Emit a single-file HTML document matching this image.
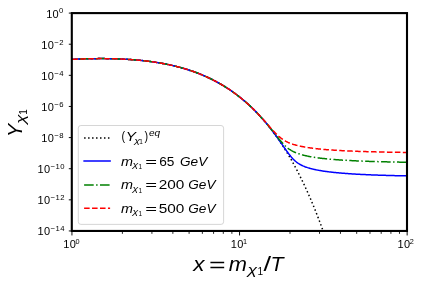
<!DOCTYPE html>
<html><head><meta charset="utf-8"><title>Relic abundance</title>
<style>
html,body{margin:0;padding:0;background:#fff;}
body{width:423px;height:287px;overflow:hidden;font-family:"Liberation Sans",sans-serif;}
svg{display:block;will-change:transform;font-family:"Liberation Sans",sans-serif;fill:#000;}
.tk{font-size:11px;letter-spacing:0.35px;}
.sp{font-size:7.7px;letter-spacing:0.55px;}
.lg{font-size:13.4px;}
.lgs{font-size:9.4px;}
.lgss{font-size:6.6px;}
.spx{font-size:7.3px;letter-spacing:0;}
.lgx{font-size:7.7px;}
.lgp{font-size:12px;}
.ax{font-size:20px;}
.axs{font-size:12px;}
.axss{font-size:10px;}
.i{font-style:italic;}
</style></head><body>
<svg width="423" height="287" viewBox="0 0 423 287">
<rect x="0" y="0" width="423" height="287" fill="#fff"/>
<defs><clipPath id="c"><rect x="71.80" y="13.10" width="335.20" height="217.85"/></clipPath></defs>

<g clip-path="url(#c)" fill="none" stroke-width="1.5" stroke-linejoin="round">
<path d="M71.80 59.34 L72.64 59.31 L73.48 59.27 L74.32 59.23 L75.16 59.20 L76.00 59.16 L76.84 59.13 L77.68 59.09 L78.52 59.06 L79.36 59.03 L80.20 59.00 L81.04 58.97 L81.88 58.94 L82.72 58.92 L83.56 58.89 L84.40 58.87 L85.24 58.84 L86.08 58.82 L86.92 58.80 L87.76 58.78 L88.60 58.76 L89.44 58.74 L90.28 58.72 L91.12 58.71 L91.96 58.69 L92.80 58.68 L93.64 58.67 L94.48 58.66 L95.32 58.65 L96.16 58.64 L97.00 58.63 L97.84 58.62 L98.68 58.62 L99.52 58.62 L100.36 58.61 L101.20 58.61 L102.04 58.61 L102.88 58.62 L103.72 58.62 L104.56 58.62 L105.40 58.63 L106.24 58.64 L107.08 58.65 L107.92 58.66 L108.76 58.67 L109.60 58.68 L110.44 58.70 L111.28 58.71 L112.12 58.73 L112.96 58.75 L113.81 58.77 L114.65 58.79 L115.49 58.82 L116.33 58.84 L117.17 58.87 L118.01 58.90 L118.85 58.93 L119.69 58.97 L120.53 59.00 L121.37 59.04 L122.21 59.07 L123.05 59.11 L123.89 59.16 L124.73 59.20 L125.57 59.24 L126.41 59.29 L127.25 59.34 L128.09 59.39 L128.93 59.44 L129.77 59.50 L130.61 59.56 L131.45 59.62 L132.29 59.68 L133.13 59.74 L133.97 59.81 L134.81 59.87 L135.65 59.94 L136.49 60.01 L137.33 60.09 L138.17 60.16 L139.01 60.24 L139.85 60.32 L140.69 60.40 L141.53 60.49 L142.37 60.58 L143.21 60.67 L144.05 60.76 L144.89 60.85 L145.73 60.95 L146.57 61.05 L147.41 61.15 L148.25 61.26 L149.09 61.36 L149.93 61.47 L150.77 61.59 L151.61 61.70 L152.45 61.82 L153.29 61.94 L154.13 62.06 L154.97 62.19 L155.81 62.32 L156.65 62.45 L157.49 62.59 L158.33 62.72 L159.17 62.86 L160.01 63.01 L160.85 63.15 L161.69 63.30 L162.53 63.46 L163.37 63.61 L164.21 63.77 L165.05 63.93 L165.89 64.10 L166.73 64.27 L167.57 64.44 L168.41 64.62 L169.25 64.79 L170.09 64.98 L170.93 65.16 L171.77 65.35 L172.61 65.54 L173.45 65.74 L174.29 65.94 L175.13 66.14 L175.97 66.35 L176.81 66.56 L177.65 66.78 L178.49 67.00 L179.33 67.22 L180.17 67.45 L181.01 67.68 L181.85 67.91 L182.69 68.15 L183.53 68.39 L184.37 68.64 L185.21 68.89 L186.05 69.15 L186.89 69.41 L187.73 69.67 L188.57 69.94 L189.41 70.21 L190.25 70.49 L191.09 70.77 L191.93 71.06 L192.77 71.35 L193.61 71.65 L194.45 71.95 L195.29 72.26 L196.13 72.57 L196.97 72.88 L197.82 73.20 L198.66 73.53 L199.50 73.86 L200.34 74.20 L201.18 74.54 L202.02 74.89 L202.86 75.24 L203.70 75.60 L204.54 75.96 L205.38 76.33 L206.22 76.70 L207.06 77.08 L207.90 77.47 L208.74 77.86 L209.58 78.26 L210.42 78.66 L211.26 79.07 L212.10 79.49 L212.94 79.91 L213.78 80.34 L214.62 80.78 L215.46 81.22 L216.30 81.66 L217.14 82.12 L217.98 82.58 L218.82 83.05 L219.66 83.52 L220.50 84.00 L221.34 84.49 L222.18 84.98 L223.02 85.49 L223.86 86.00 L224.70 86.51 L225.54 87.04 L226.38 87.57 L227.22 88.11 L228.06 88.65 L228.90 89.21 L229.74 89.77 L230.58 90.34 L231.42 90.92 L232.26 91.50 L233.10 92.10 L233.94 92.70 L234.78 93.31 L235.62 93.93 L236.46 94.56 L237.30 95.20 L238.14 95.84 L238.98 96.49 L239.82 97.16 L240.66 97.83 L241.50 98.51 L242.34 99.20 L243.18 99.90 L244.02 100.61 L244.86 101.33 L245.70 102.06 L246.54 102.80 L247.38 103.55 L248.22 104.30 L249.06 105.07 L249.90 105.85 L250.74 106.64 L251.58 107.44 L252.42 108.25 L253.26 109.07 L254.10 109.90 L254.94 110.75 L255.78 111.60 L256.62 112.47 L257.46 113.34 L258.30 114.23 L259.14 115.13 L259.98 116.04 L260.82 116.97 L261.66 117.90 L262.50 118.85 L263.34 119.81 L264.18 120.79 L265.02 121.77 L265.86 122.77 L266.70 123.78 L267.54 124.81 L268.38 125.84 L269.22 126.89 L270.06 127.96 L270.90 129.04 L271.74 130.13 L272.58 131.24 L273.42 132.36 L274.26 133.49 L275.10 134.64 L275.94 135.81 L276.78 136.99 L277.62 138.18 L278.46 139.39 L279.30 140.61 L280.14 141.85 L280.98 143.11 L281.83 144.38 L282.67 145.67 L283.51 146.98 L284.35 148.30 L285.19 149.63 L286.03 150.99 L286.87 152.36 L287.71 153.75 L288.55 155.16 L289.39 156.58 L290.23 158.02 L291.07 159.48 L291.91 160.96 L292.75 162.46 L293.59 163.97 L294.43 165.51 L295.27 167.06 L296.11 168.63 L296.95 170.23 L297.79 171.84 L298.63 173.47 L299.47 175.13 L300.31 176.80 L301.15 178.49 L301.99 180.21 L302.83 181.95 L303.67 183.70 L304.51 185.48 L305.35 187.29 L306.19 189.11 L307.03 190.96 L307.87 192.83 L308.71 194.72 L309.55 196.63 L310.39 198.57 L311.23 200.54 L312.07 202.52 L312.91 204.54 L313.75 206.57 L314.59 208.64 L315.43 210.72 L316.27 212.84 L317.11 214.97 L317.95 217.14 L318.79 219.33 L319.63 221.55 L320.47 223.79 L321.31 226.06 L322.15 228.37 L322.99 230.69 L323.83 233.05 L324.67 235.44 L325.51 237.85 L326.35 240.29 L327.19 242.77 L328.03 245.27" stroke="#000" stroke-dasharray="1.5 2.475" stroke-dashoffset="1.3"/>
<path d="M71.80 59.34 L72.47 59.31 L73.14 59.28 L73.82 59.25 L74.49 59.22 L75.16 59.20 L75.83 59.17 L76.50 59.14 L77.17 59.11 L77.85 59.09 L78.52 59.06 L79.19 59.04 L79.86 59.01 L80.53 58.99 L81.20 58.97 L81.88 58.94 L82.55 58.92 L83.22 58.90 L83.89 58.88 L84.56 58.86 L85.23 58.84 L85.91 58.83 L86.58 58.81 L87.25 58.79 L87.92 58.78 L88.59 58.76 L89.27 58.75 L89.94 58.73 L90.61 58.72 L91.28 58.71 L91.95 58.69 L92.62 58.68 L93.30 58.67 L93.97 58.66 L94.64 58.65 L95.31 58.65 L95.98 58.64 L96.65 58.63 L97.33 58.63 L98.00 58.62 L98.67 58.62 L99.34 58.62 L100.01 58.62 L100.68 58.61 L101.36 58.61 L102.03 58.61 L102.70 58.62 L103.37 58.62 L104.04 58.62 L104.72 58.62 L105.39 58.63 L106.06 58.64 L106.73 58.64 L107.40 58.65 L108.07 58.66 L108.75 58.67 L109.42 58.68 L110.09 58.69 L110.76 58.70 L111.43 58.72 L112.10 58.73 L112.78 58.75 L113.45 58.76 L114.12 58.78 L114.79 58.80 L115.46 58.82 L116.14 58.84 L116.81 58.86 L117.48 58.88 L118.15 58.91 L118.82 58.93 L119.49 58.96 L120.17 58.99 L120.84 59.01 L121.51 59.04 L122.18 59.07 L122.85 59.10 L123.52 59.14 L124.20 59.17 L124.87 59.21 L125.54 59.24 L126.21 59.28 L126.88 59.32 L127.55 59.36 L128.23 59.40 L128.90 59.44 L129.57 59.49 L130.24 59.53 L130.91 59.58 L131.59 59.63 L132.26 59.67 L132.93 59.72 L133.60 59.78 L134.27 59.83 L134.94 59.88 L135.62 59.94 L136.29 60.00 L136.96 60.05 L137.63 60.11 L138.30 60.18 L138.97 60.24 L139.65 60.30 L140.32 60.37 L140.99 60.44 L141.66 60.50 L142.33 60.57 L143.00 60.65 L143.68 60.72 L144.35 60.79 L145.02 60.87 L145.69 60.95 L146.36 61.03 L147.04 61.11 L147.71 61.19 L148.38 61.27 L149.05 61.36 L149.72 61.45 L150.39 61.54 L151.07 61.63 L151.74 61.72 L152.41 61.81 L153.08 61.91 L153.75 62.01 L154.42 62.11 L155.10 62.21 L155.77 62.31 L156.44 62.42 L157.11 62.52 L157.78 62.63 L158.45 62.74 L159.13 62.86 L159.80 62.97 L160.47 63.09 L161.14 63.21 L161.81 63.33 L162.49 63.45 L163.16 63.57 L163.83 63.70 L164.50 63.83 L165.17 63.96 L165.84 64.09 L166.52 64.22 L167.19 64.36 L167.86 64.50 L168.53 64.64 L169.20 64.78 L169.87 64.93 L170.55 65.08 L171.22 65.23 L171.89 65.38 L172.56 65.53 L173.23 65.69 L173.91 65.85 L174.58 66.01 L175.25 66.17 L175.92 66.34 L176.59 66.51 L177.26 66.68 L177.94 66.85 L178.61 67.03 L179.28 67.21 L179.95 67.39 L180.62 67.57 L181.29 67.76 L181.97 67.94 L182.64 68.13 L183.31 68.33 L183.98 68.52 L184.65 68.72 L185.32 68.93 L186.00 69.13 L186.67 69.34 L187.34 69.55 L188.01 69.76 L188.68 69.98 L189.36 70.19 L190.03 70.42 L190.70 70.64 L191.37 70.87 L192.04 71.10 L192.71 71.33 L193.39 71.57 L194.06 71.81 L194.73 72.05 L195.40 72.30 L196.07 72.54 L196.74 72.80 L197.42 73.05 L198.09 73.31 L198.76 73.57 L199.43 73.84 L200.10 74.10 L200.77 74.38 L201.45 74.65 L202.12 74.93 L202.79 75.21 L203.46 75.50 L204.13 75.79 L204.81 76.08 L205.48 76.37 L206.15 76.67 L206.82 76.98 L207.49 77.28 L208.16 77.59 L208.84 77.91 L209.51 78.23 L210.18 78.55 L210.85 78.88 L211.52 79.20 L212.19 79.54 L212.87 79.88 L213.54 80.22 L214.21 80.56 L214.88 80.91 L215.55 81.27 L216.22 81.62 L216.90 81.99 L217.57 82.35 L218.24 82.72 L218.91 83.10 L219.58 83.48 L220.26 83.86 L220.93 84.25 L221.60 84.64 L222.27 85.04 L222.94 85.44 L223.61 85.85 L224.29 86.26 L224.96 86.67 L225.63 87.09 L226.30 87.52 L226.97 87.95 L227.64 88.38 L228.32 88.82 L228.99 89.27 L229.66 89.72 L230.33 90.17 L231.00 90.63 L231.67 91.10 L232.35 91.57 L233.02 92.04 L233.69 92.52 L234.36 93.01 L235.03 93.50 L235.71 94.00 L236.38 94.50 L237.05 95.00 L237.72 95.52 L238.39 96.04 L239.06 96.56 L239.74 97.09 L240.41 97.63 L241.08 98.17 L241.75 98.72 L242.42 99.27 L243.09 99.83 L243.77 100.39 L244.44 100.97 L245.11 101.54 L245.78 102.13 L246.45 102.72 L247.13 103.32 L247.80 103.92 L248.47 104.53 L249.14 105.14 L249.81 105.77 L250.48 106.40 L251.16 107.03 L251.83 107.68 L252.50 108.32 L253.17 108.98 L253.84 109.64 L254.51 110.32 L255.19 110.99 L255.86 111.68 L256.53 112.37 L257.20 113.07 L257.87 113.77 L258.54 114.49 L259.22 115.21 L259.89 115.94 L260.56 116.67 L261.23 117.42 L261.90 118.17 L262.58 118.93 L263.25 119.70 L263.92 120.47 L264.59 121.26 L265.26 122.05 L265.93 122.85 L266.61 123.65 L267.28 124.47 L267.95 125.29 L268.62 126.12 L269.29 126.96 L269.96 127.81 L270.64 128.67 L271.31 129.53 L271.98 130.41 L272.65 131.29 L273.32 132.18 L273.99 133.08 L274.67 133.98 L275.34 134.90 L276.01 135.82 L276.68 136.75 L277.35 137.68 L278.03 138.63 L278.70 139.58 L279.37 140.53 L280.04 141.49 L280.71 142.45 L281.38 143.42 L282.06 144.39 L282.73 145.37 L283.40 146.34 L284.07 147.31 L284.74 148.27 L285.41 149.23 L286.09 150.18 L286.76 151.12 L287.43 152.05 L288.10 152.96 L288.77 153.85 L289.44 154.72 L290.12 155.57 L290.79 156.39 L291.46 157.18 L292.13 157.93 L292.80 158.66 L293.48 159.35 L294.15 160.01 L294.82 160.63 L295.49 161.22 L296.16 161.78 L296.83 162.30 L297.51 162.79 L298.18 163.26 L298.85 163.70 L299.52 164.11 L300.19 164.50 L300.86 164.86 L301.54 165.21 L302.21 165.54 L302.88 165.85 L303.55 166.14 L304.22 166.42 L304.89 166.69 L305.57 166.94 L306.24 167.18 L306.91 167.41 L307.58 167.64 L308.25 167.85 L308.93 168.05 L309.60 168.25 L310.27 168.44 L310.94 168.62 L311.61 168.79 L312.28 168.96 L312.96 169.12 L313.63 169.28 L314.30 169.43 L314.97 169.58 L315.64 169.72 L316.31 169.86 L316.99 169.99 L317.66 170.12 L318.33 170.25 L319.00 170.37 L319.67 170.49 L320.35 170.61 L321.02 170.72 L321.69 170.83 L322.36 170.94 L323.03 171.04 L323.70 171.14 L324.38 171.24 L325.05 171.34 L325.72 171.43 L326.39 171.52 L327.06 171.61 L327.73 171.70 L328.41 171.79 L329.08 171.87 L329.75 171.95 L330.42 172.03 L331.09 172.11 L331.76 172.19 L332.44 172.26 L333.11 172.33 L333.78 172.41 L334.45 172.48 L335.12 172.54 L335.80 172.61 L336.47 172.68 L337.14 172.74 L337.81 172.81 L338.48 172.87 L339.15 172.93 L339.83 172.99 L340.50 173.05 L341.17 173.10 L341.84 173.16 L342.51 173.22 L343.18 173.27 L343.86 173.32 L344.53 173.37 L345.20 173.43 L345.87 173.48 L346.54 173.53 L347.21 173.57 L347.89 173.62 L348.56 173.67 L349.23 173.72 L349.90 173.76 L350.57 173.81 L351.25 173.85 L351.92 173.89 L352.59 173.93 L353.26 173.98 L353.93 174.02 L354.60 174.06 L355.28 174.10 L355.95 174.14 L356.62 174.17 L357.29 174.21 L357.96 174.25 L358.63 174.29 L359.31 174.32 L359.98 174.36 L360.65 174.39 L361.32 174.43 L361.99 174.46 L362.66 174.49 L363.34 174.53 L364.01 174.56 L364.68 174.59 L365.35 174.62 L366.02 174.65 L366.70 174.68 L367.37 174.71 L368.04 174.74 L368.71 174.77 L369.38 174.80 L370.05 174.83 L370.73 174.85 L371.40 174.88 L372.07 174.91 L372.74 174.93 L373.41 174.96 L374.08 174.99 L374.76 175.01 L375.43 175.04 L376.10 175.06 L376.77 175.09 L377.44 175.11 L378.12 175.13 L378.79 175.16 L379.46 175.18 L380.13 175.20 L380.80 175.22 L381.47 175.25 L382.15 175.27 L382.82 175.29 L383.49 175.31 L384.16 175.33 L384.83 175.35 L385.50 175.37 L386.18 175.39 L386.85 175.41 L387.52 175.43 L388.19 175.45 L388.86 175.47 L389.53 175.49 L390.21 175.51 L390.88 175.53 L391.55 175.54 L392.22 175.56 L392.89 175.58 L393.57 175.60 L394.24 175.61 L394.91 175.63 L395.58 175.65 L396.25 175.66 L396.92 175.68 L397.60 175.70 L398.27 175.71 L398.94 175.73 L399.61 175.74 L400.28 175.76 L400.95 175.77 L401.63 175.79 L402.30 175.80 L402.97 175.82 L403.64 175.83 L404.31 175.84 L404.98 175.86 L405.66 175.87 L406.33 175.89 L407.00 175.90" stroke="#0000ff" stroke-linecap="square"/>
<path d="M71.80 59.34 L72.47 59.31 L73.14 59.28 L73.82 59.25 L74.49 59.22 L75.16 59.20 L75.83 59.17 L76.50 59.14 L77.17 59.11 L77.85 59.09 L78.52 59.06 L79.19 59.04 L79.86 59.01 L80.53 58.99 L81.20 58.97 L81.88 58.94 L82.55 58.92 L83.22 58.90 L83.89 58.88 L84.56 58.86 L85.23 58.84 L85.91 58.83 L86.58 58.81 L87.25 58.79 L87.92 58.78 L88.59 58.76 L89.27 58.75 L89.94 58.73 L90.61 58.72 L91.28 58.71 L91.95 58.69 L92.62 58.68 L93.30 58.67 L93.97 58.66 L94.64 58.65 L95.31 58.65 L95.98 58.64 L96.65 58.63 L97.33 58.63 L98.00 58.62 L98.67 58.62 L99.34 58.62 L100.01 58.62 L100.68 58.61 L101.36 58.61 L102.03 58.61 L102.70 58.62 L103.37 58.62 L104.04 58.62 L104.72 58.62 L105.39 58.63 L106.06 58.64 L106.73 58.64 L107.40 58.65 L108.07 58.66 L108.75 58.67 L109.42 58.68 L110.09 58.69 L110.76 58.70 L111.43 58.72 L112.10 58.73 L112.78 58.75 L113.45 58.76 L114.12 58.78 L114.79 58.80 L115.46 58.82 L116.14 58.84 L116.81 58.86 L117.48 58.88 L118.15 58.91 L118.82 58.93 L119.49 58.96 L120.17 58.99 L120.84 59.01 L121.51 59.04 L122.18 59.07 L122.85 59.10 L123.52 59.14 L124.20 59.17 L124.87 59.21 L125.54 59.24 L126.21 59.28 L126.88 59.32 L127.55 59.36 L128.23 59.40 L128.90 59.44 L129.57 59.49 L130.24 59.53 L130.91 59.58 L131.59 59.63 L132.26 59.67 L132.93 59.72 L133.60 59.78 L134.27 59.83 L134.94 59.88 L135.62 59.94 L136.29 60.00 L136.96 60.05 L137.63 60.11 L138.30 60.18 L138.97 60.24 L139.65 60.30 L140.32 60.37 L140.99 60.44 L141.66 60.50 L142.33 60.57 L143.00 60.65 L143.68 60.72 L144.35 60.79 L145.02 60.87 L145.69 60.95 L146.36 61.03 L147.04 61.11 L147.71 61.19 L148.38 61.27 L149.05 61.36 L149.72 61.45 L150.39 61.54 L151.07 61.63 L151.74 61.72 L152.41 61.81 L153.08 61.91 L153.75 62.01 L154.42 62.11 L155.10 62.21 L155.77 62.31 L156.44 62.42 L157.11 62.52 L157.78 62.63 L158.45 62.74 L159.13 62.86 L159.80 62.97 L160.47 63.09 L161.14 63.21 L161.81 63.33 L162.49 63.45 L163.16 63.57 L163.83 63.70 L164.50 63.83 L165.17 63.96 L165.84 64.09 L166.52 64.22 L167.19 64.36 L167.86 64.50 L168.53 64.64 L169.20 64.78 L169.87 64.93 L170.55 65.08 L171.22 65.23 L171.89 65.38 L172.56 65.53 L173.23 65.69 L173.91 65.85 L174.58 66.01 L175.25 66.17 L175.92 66.34 L176.59 66.51 L177.26 66.68 L177.94 66.85 L178.61 67.03 L179.28 67.21 L179.95 67.39 L180.62 67.57 L181.29 67.76 L181.97 67.94 L182.64 68.13 L183.31 68.33 L183.98 68.52 L184.65 68.72 L185.32 68.93 L186.00 69.13 L186.67 69.34 L187.34 69.55 L188.01 69.76 L188.68 69.98 L189.36 70.19 L190.03 70.42 L190.70 70.64 L191.37 70.87 L192.04 71.10 L192.71 71.33 L193.39 71.57 L194.06 71.81 L194.73 72.05 L195.40 72.30 L196.07 72.54 L196.74 72.80 L197.42 73.05 L198.09 73.31 L198.76 73.57 L199.43 73.84 L200.10 74.10 L200.77 74.38 L201.45 74.65 L202.12 74.93 L202.79 75.21 L203.46 75.50 L204.13 75.79 L204.81 76.08 L205.48 76.37 L206.15 76.67 L206.82 76.98 L207.49 77.28 L208.16 77.59 L208.84 77.91 L209.51 78.23 L210.18 78.55 L210.85 78.88 L211.52 79.20 L212.19 79.54 L212.87 79.88 L213.54 80.22 L214.21 80.56 L214.88 80.91 L215.55 81.27 L216.22 81.62 L216.90 81.99 L217.57 82.35 L218.24 82.72 L218.91 83.10 L219.58 83.48 L220.26 83.86 L220.93 84.25 L221.60 84.64 L222.27 85.04 L222.94 85.44 L223.61 85.85 L224.29 86.26 L224.96 86.67 L225.63 87.09 L226.30 87.52 L226.97 87.95 L227.64 88.38 L228.32 88.82 L228.99 89.27 L229.66 89.72 L230.33 90.17 L231.00 90.63 L231.67 91.10 L232.35 91.57 L233.02 92.04 L233.69 92.52 L234.36 93.01 L235.03 93.50 L235.71 93.99 L236.38 94.50 L237.05 95.00 L237.72 95.52 L238.39 96.04 L239.06 96.56 L239.74 97.09 L240.41 97.63 L241.08 98.17 L241.75 98.72 L242.42 99.27 L243.09 99.83 L243.77 100.39 L244.44 100.97 L245.11 101.54 L245.78 102.13 L246.45 102.72 L247.13 103.31 L247.80 103.92 L248.47 104.53 L249.14 105.14 L249.81 105.76 L250.48 106.39 L251.16 107.03 L251.83 107.67 L252.50 108.32 L253.17 108.98 L253.84 109.64 L254.51 110.31 L255.19 110.99 L255.86 111.67 L256.53 112.36 L257.20 113.06 L257.87 113.76 L258.54 114.47 L259.22 115.19 L259.89 115.92 L260.56 116.65 L261.23 117.40 L261.90 118.14 L262.58 118.90 L263.25 119.66 L263.92 120.43 L264.59 121.21 L265.26 121.99 L265.93 122.78 L266.61 123.58 L267.28 124.39 L267.95 125.20 L268.62 126.02 L269.29 126.84 L269.96 127.67 L270.64 128.50 L271.31 129.34 L271.98 130.19 L272.65 131.03 L273.32 131.88 L273.99 132.74 L274.67 133.59 L275.34 134.44 L276.01 135.29 L276.68 136.14 L277.35 136.98 L278.03 137.82 L278.70 138.65 L279.37 139.46 L280.04 140.27 L280.71 141.06 L281.38 141.83 L282.06 142.59 L282.73 143.32 L283.40 144.03 L284.07 144.72 L284.74 145.39 L285.41 146.02 L286.09 146.63 L286.76 147.21 L287.43 147.77 L288.10 148.30 L288.77 148.80 L289.44 149.27 L290.12 149.72 L290.79 150.15 L291.46 150.55 L292.13 150.93 L292.80 151.29 L293.48 151.64 L294.15 151.96 L294.82 152.27 L295.49 152.56 L296.16 152.84 L296.83 153.10 L297.51 153.36 L298.18 153.60 L298.85 153.83 L299.52 154.05 L300.19 154.26 L300.86 154.46 L301.54 154.66 L302.21 154.85 L302.88 155.03 L303.55 155.20 L304.22 155.37 L304.89 155.53 L305.57 155.69 L306.24 155.84 L306.91 155.98 L307.58 156.12 L308.25 156.26 L308.93 156.39 L309.60 156.52 L310.27 156.65 L310.94 156.77 L311.61 156.89 L312.28 157.00 L312.96 157.11 L313.63 157.22 L314.30 157.32 L314.97 157.43 L315.64 157.53 L316.31 157.62 L316.99 157.72 L317.66 157.81 L318.33 157.90 L319.00 157.99 L319.67 158.08 L320.35 158.16 L321.02 158.24 L321.69 158.32 L322.36 158.40 L323.03 158.48 L323.70 158.55 L324.38 158.62 L325.05 158.70 L325.72 158.77 L326.39 158.83 L327.06 158.90 L327.73 158.97 L328.41 159.03 L329.08 159.09 L329.75 159.16 L330.42 159.22 L331.09 159.28 L331.76 159.33 L332.44 159.39 L333.11 159.45 L333.78 159.50 L334.45 159.55 L335.12 159.61 L335.80 159.66 L336.47 159.71 L337.14 159.76 L337.81 159.81 L338.48 159.86 L339.15 159.90 L339.83 159.95 L340.50 160.00 L341.17 160.04 L341.84 160.08 L342.51 160.13 L343.18 160.17 L343.86 160.21 L344.53 160.25 L345.20 160.29 L345.87 160.33 L346.54 160.37 L347.21 160.41 L347.89 160.44 L348.56 160.48 L349.23 160.52 L349.90 160.55 L350.57 160.59 L351.25 160.62 L351.92 160.66 L352.59 160.69 L353.26 160.72 L353.93 160.76 L354.60 160.79 L355.28 160.82 L355.95 160.85 L356.62 160.88 L357.29 160.91 L357.96 160.94 L358.63 160.97 L359.31 161.00 L359.98 161.02 L360.65 161.05 L361.32 161.08 L361.99 161.11 L362.66 161.13 L363.34 161.16 L364.01 161.18 L364.68 161.21 L365.35 161.23 L366.02 161.26 L366.70 161.28 L367.37 161.31 L368.04 161.33 L368.71 161.35 L369.38 161.38 L370.05 161.40 L370.73 161.42 L371.40 161.44 L372.07 161.46 L372.74 161.48 L373.41 161.50 L374.08 161.52 L374.76 161.55 L375.43 161.57 L376.10 161.58 L376.77 161.60 L377.44 161.62 L378.12 161.64 L378.79 161.66 L379.46 161.68 L380.13 161.70 L380.80 161.71 L381.47 161.73 L382.15 161.75 L382.82 161.77 L383.49 161.78 L384.16 161.80 L384.83 161.82 L385.50 161.83 L386.18 161.85 L386.85 161.86 L387.52 161.88 L388.19 161.89 L388.86 161.91 L389.53 161.92 L390.21 161.94 L390.88 161.95 L391.55 161.97 L392.22 161.98 L392.89 162.00 L393.57 162.01 L394.24 162.02 L394.91 162.04 L395.58 162.05 L396.25 162.06 L396.92 162.08 L397.60 162.09 L398.27 162.10 L398.94 162.11 L399.61 162.13 L400.28 162.14 L400.95 162.15 L401.63 162.16 L402.30 162.17 L402.97 162.18 L403.64 162.20 L404.31 162.21 L404.98 162.22 L405.66 162.23 L406.33 162.24 L407.00 162.25" stroke="#008000" stroke-dasharray="9.6 2.4 1.5 2.4" stroke-dashoffset="8.1"/>
<path d="M71.80 59.34 L72.47 59.31 L73.14 59.28 L73.82 59.25 L74.49 59.22 L75.16 59.20 L75.83 59.17 L76.50 59.14 L77.17 59.11 L77.85 59.09 L78.52 59.06 L79.19 59.04 L79.86 59.01 L80.53 58.99 L81.20 58.97 L81.88 58.94 L82.55 58.92 L83.22 58.90 L83.89 58.88 L84.56 58.86 L85.23 58.84 L85.91 58.83 L86.58 58.81 L87.25 58.79 L87.92 58.78 L88.59 58.76 L89.27 58.75 L89.94 58.73 L90.61 58.72 L91.28 58.71 L91.95 58.69 L92.62 58.68 L93.30 58.67 L93.97 58.66 L94.64 58.65 L95.31 58.65 L95.98 58.64 L96.65 58.63 L97.33 58.63 L98.00 58.62 L98.67 58.62 L99.34 58.62 L100.01 58.62 L100.68 58.61 L101.36 58.61 L102.03 58.61 L102.70 58.62 L103.37 58.62 L104.04 58.62 L104.72 58.62 L105.39 58.63 L106.06 58.64 L106.73 58.64 L107.40 58.65 L108.07 58.66 L108.75 58.67 L109.42 58.68 L110.09 58.69 L110.76 58.70 L111.43 58.72 L112.10 58.73 L112.78 58.75 L113.45 58.76 L114.12 58.78 L114.79 58.80 L115.46 58.82 L116.14 58.84 L116.81 58.86 L117.48 58.88 L118.15 58.91 L118.82 58.93 L119.49 58.96 L120.17 58.99 L120.84 59.01 L121.51 59.04 L122.18 59.07 L122.85 59.10 L123.52 59.14 L124.20 59.17 L124.87 59.21 L125.54 59.24 L126.21 59.28 L126.88 59.32 L127.55 59.36 L128.23 59.40 L128.90 59.44 L129.57 59.49 L130.24 59.53 L130.91 59.58 L131.59 59.63 L132.26 59.67 L132.93 59.72 L133.60 59.78 L134.27 59.83 L134.94 59.88 L135.62 59.94 L136.29 60.00 L136.96 60.05 L137.63 60.11 L138.30 60.18 L138.97 60.24 L139.65 60.30 L140.32 60.37 L140.99 60.44 L141.66 60.50 L142.33 60.57 L143.00 60.65 L143.68 60.72 L144.35 60.79 L145.02 60.87 L145.69 60.95 L146.36 61.03 L147.04 61.11 L147.71 61.19 L148.38 61.27 L149.05 61.36 L149.72 61.45 L150.39 61.54 L151.07 61.63 L151.74 61.72 L152.41 61.81 L153.08 61.91 L153.75 62.01 L154.42 62.11 L155.10 62.21 L155.77 62.31 L156.44 62.42 L157.11 62.52 L157.78 62.63 L158.45 62.74 L159.13 62.86 L159.80 62.97 L160.47 63.09 L161.14 63.21 L161.81 63.33 L162.49 63.45 L163.16 63.57 L163.83 63.70 L164.50 63.83 L165.17 63.96 L165.84 64.09 L166.52 64.22 L167.19 64.36 L167.86 64.50 L168.53 64.64 L169.20 64.78 L169.87 64.93 L170.55 65.08 L171.22 65.23 L171.89 65.38 L172.56 65.53 L173.23 65.69 L173.91 65.85 L174.58 66.01 L175.25 66.17 L175.92 66.34 L176.59 66.51 L177.26 66.68 L177.94 66.85 L178.61 67.03 L179.28 67.21 L179.95 67.39 L180.62 67.57 L181.29 67.76 L181.97 67.94 L182.64 68.13 L183.31 68.33 L183.98 68.52 L184.65 68.72 L185.32 68.93 L186.00 69.13 L186.67 69.34 L187.34 69.55 L188.01 69.76 L188.68 69.98 L189.36 70.19 L190.03 70.42 L190.70 70.64 L191.37 70.87 L192.04 71.10 L192.71 71.33 L193.39 71.57 L194.06 71.81 L194.73 72.05 L195.40 72.30 L196.07 72.54 L196.74 72.80 L197.42 73.05 L198.09 73.31 L198.76 73.57 L199.43 73.84 L200.10 74.10 L200.77 74.38 L201.45 74.65 L202.12 74.93 L202.79 75.21 L203.46 75.50 L204.13 75.79 L204.81 76.08 L205.48 76.37 L206.15 76.67 L206.82 76.98 L207.49 77.28 L208.16 77.59 L208.84 77.91 L209.51 78.23 L210.18 78.55 L210.85 78.88 L211.52 79.20 L212.19 79.54 L212.87 79.88 L213.54 80.22 L214.21 80.56 L214.88 80.91 L215.55 81.27 L216.22 81.62 L216.90 81.99 L217.57 82.35 L218.24 82.72 L218.91 83.10 L219.58 83.48 L220.26 83.86 L220.93 84.25 L221.60 84.64 L222.27 85.04 L222.94 85.44 L223.61 85.85 L224.29 86.26 L224.96 86.67 L225.63 87.09 L226.30 87.52 L226.97 87.95 L227.64 88.38 L228.32 88.82 L228.99 89.27 L229.66 89.72 L230.33 90.17 L231.00 90.63 L231.67 91.10 L232.35 91.57 L233.02 92.04 L233.69 92.52 L234.36 93.01 L235.03 93.50 L235.71 93.99 L236.38 94.50 L237.05 95.00 L237.72 95.52 L238.39 96.03 L239.06 96.56 L239.74 97.09 L240.41 97.62 L241.08 98.16 L241.75 98.71 L242.42 99.27 L243.09 99.82 L243.77 100.39 L244.44 100.96 L245.11 101.54 L245.78 102.12 L246.45 102.71 L247.13 103.31 L247.80 103.91 L248.47 104.52 L249.14 105.13 L249.81 105.75 L250.48 106.38 L251.16 107.01 L251.83 107.65 L252.50 108.30 L253.17 108.96 L253.84 109.62 L254.51 110.28 L255.19 110.95 L255.86 111.63 L256.53 112.32 L257.20 113.01 L257.87 113.71 L258.54 114.42 L259.22 115.13 L259.89 115.85 L260.56 116.57 L261.23 117.30 L261.90 118.04 L262.58 118.78 L263.25 119.52 L263.92 120.27 L264.59 121.03 L265.26 121.78 L265.93 122.55 L266.61 123.31 L267.28 124.08 L267.95 124.84 L268.62 125.61 L269.29 126.38 L269.96 127.14 L270.64 127.90 L271.31 128.66 L271.98 129.41 L272.65 130.16 L273.32 130.89 L273.99 131.61 L274.67 132.32 L275.34 133.02 L276.01 133.70 L276.68 134.36 L277.35 135.01 L278.03 135.63 L278.70 136.24 L279.37 136.82 L280.04 137.38 L280.71 137.92 L281.38 138.43 L282.06 138.92 L282.73 139.39 L283.40 139.83 L284.07 140.26 L284.74 140.66 L285.41 141.04 L286.09 141.41 L286.76 141.75 L287.43 142.08 L288.10 142.40 L288.77 142.69 L289.44 142.98 L290.12 143.25 L290.79 143.50 L291.46 143.75 L292.13 143.98 L292.80 144.21 L293.48 144.42 L294.15 144.63 L294.82 144.83 L295.49 145.02 L296.16 145.20 L296.83 145.38 L297.51 145.55 L298.18 145.71 L298.85 145.87 L299.52 146.02 L300.19 146.17 L300.86 146.31 L301.54 146.45 L302.21 146.58 L302.88 146.71 L303.55 146.84 L304.22 146.96 L304.89 147.08 L305.57 147.19 L306.24 147.30 L306.91 147.41 L307.58 147.52 L308.25 147.62 L308.93 147.72 L309.60 147.82 L310.27 147.91 L310.94 148.00 L311.61 148.09 L312.28 148.18 L312.96 148.27 L313.63 148.35 L314.30 148.43 L314.97 148.51 L315.64 148.59 L316.31 148.67 L316.99 148.74 L317.66 148.81 L318.33 148.89 L319.00 148.95 L319.67 149.02 L320.35 149.09 L321.02 149.15 L321.69 149.22 L322.36 149.28 L323.03 149.34 L323.70 149.40 L324.38 149.46 L325.05 149.52 L325.72 149.57 L326.39 149.63 L327.06 149.68 L327.73 149.74 L328.41 149.79 L329.08 149.84 L329.75 149.89 L330.42 149.94 L331.09 149.99 L331.76 150.03 L332.44 150.08 L333.11 150.12 L333.78 150.17 L334.45 150.21 L335.12 150.26 L335.80 150.30 L336.47 150.34 L337.14 150.38 L337.81 150.42 L338.48 150.46 L339.15 150.50 L339.83 150.54 L340.50 150.57 L341.17 150.61 L341.84 150.65 L342.51 150.68 L343.18 150.72 L343.86 150.75 L344.53 150.78 L345.20 150.82 L345.87 150.85 L346.54 150.88 L347.21 150.91 L347.89 150.94 L348.56 150.98 L349.23 151.01 L349.90 151.03 L350.57 151.06 L351.25 151.09 L351.92 151.12 L352.59 151.15 L353.26 151.18 L353.93 151.20 L354.60 151.23 L355.28 151.25 L355.95 151.28 L356.62 151.30 L357.29 151.33 L357.96 151.35 L358.63 151.38 L359.31 151.40 L359.98 151.42 L360.65 151.45 L361.32 151.47 L361.99 151.49 L362.66 151.51 L363.34 151.54 L364.01 151.56 L364.68 151.58 L365.35 151.60 L366.02 151.62 L366.70 151.64 L367.37 151.66 L368.04 151.68 L368.71 151.70 L369.38 151.72 L370.05 151.73 L370.73 151.75 L371.40 151.77 L372.07 151.79 L372.74 151.81 L373.41 151.82 L374.08 151.84 L374.76 151.86 L375.43 151.87 L376.10 151.89 L376.77 151.91 L377.44 151.92 L378.12 151.94 L378.79 151.95 L379.46 151.97 L380.13 151.98 L380.80 152.00 L381.47 152.01 L382.15 152.03 L382.82 152.04 L383.49 152.06 L384.16 152.07 L384.83 152.08 L385.50 152.10 L386.18 152.11 L386.85 152.12 L387.52 152.14 L388.19 152.15 L388.86 152.16 L389.53 152.17 L390.21 152.18 L390.88 152.20 L391.55 152.21 L392.22 152.22 L392.89 152.23 L393.57 152.24 L394.24 152.25 L394.91 152.27 L395.58 152.28 L396.25 152.29 L396.92 152.30 L397.60 152.31 L398.27 152.32 L398.94 152.33 L399.61 152.34 L400.28 152.35 L400.95 152.36 L401.63 152.37 L402.30 152.38 L402.97 152.39 L403.64 152.40 L404.31 152.41 L404.98 152.41 L405.66 152.42 L406.33 152.43 L407.00 152.44" stroke="#ff0000" stroke-dasharray="5.55 2.4" stroke-dashoffset="7.35"/>
</g>
<g stroke="#000" stroke-width="0.95" fill="none">
<path d="M71.95 230.95 v4.5"/>
<path d="M239.55 230.95 v4.5"/>
<path d="M407.15 230.95 v4.5"/>
<path d="M71.80 13.10 h-3.0"/>
<path d="M71.80 44.22 h-3.0"/>
<path d="M71.80 75.34 h-3.0"/>
<path d="M71.80 106.46 h-3.0"/>
<path d="M71.80 137.59 h-3.0"/>
<path d="M71.80 168.71 h-3.0"/>
<path d="M71.80 199.83 h-3.0"/>
<path d="M71.80 230.95 h-3.0"/>
</g><g stroke="#000" stroke-width="0.85" fill="none">
<path d="M122.40 230.95 v2.9"/>
<path d="M151.92 230.95 v2.9"/>
<path d="M172.86 230.95 v2.9"/>
<path d="M189.10 230.95 v2.9"/>
<path d="M202.37 230.95 v2.9"/>
<path d="M213.59 230.95 v2.9"/>
<path d="M223.31 230.95 v2.9"/>
<path d="M231.88 230.95 v2.9"/>
<path d="M290.00 230.95 v2.9"/>
<path d="M319.52 230.95 v2.9"/>
<path d="M340.46 230.95 v2.9"/>
<path d="M356.70 230.95 v2.9"/>
<path d="M369.97 230.95 v2.9"/>
<path d="M381.19 230.95 v2.9"/>
<path d="M390.91 230.95 v2.9"/>
<path d="M399.48 230.95 v2.9"/>
</g>
<rect x="71.80" y="13.10" width="335.20" height="217.85" fill="none" stroke="#000" stroke-width="2.1" stroke-linejoin="miter"/>
<text x="63.9" y="17.50" text-anchor="end" class="tk">10<tspan class="sp" dy="-4.1">0</tspan></text>
<text x="64.1" y="48.62" text-anchor="end" class="tk">10<tspan class="sp" dy="-4.1">−2</tspan></text>
<text x="64.1" y="79.74" text-anchor="end" class="tk">10<tspan class="sp" dy="-4.1">−4</tspan></text>
<text x="64.1" y="110.86" text-anchor="end" class="tk">10<tspan class="sp" dy="-4.1">−6</tspan></text>
<text x="64.1" y="141.99" text-anchor="end" class="tk">10<tspan class="sp" dy="-4.1">−8</tspan></text>
<text x="65.1" y="173.11" text-anchor="end" class="tk">10<tspan class="sp" dy="-4.1">−10</tspan></text>
<text x="65.1" y="204.23" text-anchor="end" class="tk">10<tspan class="sp" dy="-4.1">−12</tspan></text>
<text x="65.1" y="235.35" text-anchor="end" class="tk">10<tspan class="sp" dy="-4.1">−14</tspan></text>
<text x="71.40" y="248.2" text-anchor="middle" class="tk">10<tspan class="spx" dy="-4.4" dx="-0.7">0</tspan></text>
<text x="239.00" y="248.2" text-anchor="middle" class="tk">10<tspan class="spx" dy="-4.4" dx="-0.7">1</tspan></text>
<text x="405.70" y="248.2" text-anchor="middle" class="tk">10<tspan class="spx" dy="-4.4" dx="-0.7">2</tspan></text>
<text x="193.20" y="270.50" class="ax i" textLength="11.20" lengthAdjust="spacingAndGlyphs">x</text>
<text x="209.00" y="271.50" class="ax" textLength="16.60" lengthAdjust="spacingAndGlyphs">=</text>
<text x="228.80" y="270.50" class="ax i" textLength="18.20" lengthAdjust="spacingAndGlyphs">m</text>
<text x="247.60" y="273.50" class="axs i" textLength="9.60" lengthAdjust="spacingAndGlyphs">χ</text>
<text x="257.60" y="275.00" class="axss" textLength="5.60" lengthAdjust="spacingAndGlyphs">1</text>
<text x="263.40" y="270.50" class="ax" textLength="7.60" lengthAdjust="spacingAndGlyphs">/</text>
<text x="270.60" y="270.50" class="ax i" textLength="13.00" lengthAdjust="spacingAndGlyphs">T</text>
<g transform="translate(21.5,137.0) rotate(-90)">
<text x="0.00" y="0.00" class="ax i" textLength="13.00" lengthAdjust="spacingAndGlyphs">Y</text>
<text x="13.00" y="3.30" class="axs i" textLength="9.60" lengthAdjust="spacingAndGlyphs">χ</text>
<text x="22.20" y="5.20" class="axss" textLength="5.60" lengthAdjust="spacingAndGlyphs">1</text>
</g>
<rect x="78.3" y="125.5" width="145.3" height="98.9" rx="2.6" ry="2.6" fill="#fff" fill-opacity="0.8" stroke="#cccccc" stroke-opacity="0.8" stroke-width="1"/>
<g fill="none" stroke-width="1.5">
<path d="M84.1 137.90 h26" stroke="#000" stroke-dasharray="1.5 2.475"/>
<path d="M84.1 161.00 h26" stroke="#0000ff" stroke-linecap="square"/>
<path d="M84.1 185.00 h26" stroke="#008000" stroke-dasharray="9.6 2.4 1.5 2.4"/>
<path d="M84.1 208.20 h26" stroke="#ff0000" stroke-dasharray="5.55 2.4"/>
</g>
<text x="121.50" y="140.40" class="lgp" textLength="3.60" lengthAdjust="spacingAndGlyphs">(</text>
<text x="125.70" y="141.00" class="lg i" textLength="10.20" lengthAdjust="spacingAndGlyphs">Y</text>
<text x="134.20" y="142.70" class="lgx i" textLength="5.80" lengthAdjust="spacingAndGlyphs">χ</text>
<text x="139.20" y="144.30" class="lgss" textLength="3.60" lengthAdjust="spacingAndGlyphs">1</text>
<text x="144.50" y="140.40" class="lgp" textLength="3.60" lengthAdjust="spacingAndGlyphs">)</text>
<text x="149.00" y="135.60" class="lgs i" textLength="11.20" lengthAdjust="spacingAndGlyphs">eq</text>
<text x="121.00" y="165.50" class="lg i" textLength="12.00" lengthAdjust="spacingAndGlyphs">m</text>
<text x="132.40" y="167.20" class="lgx i" textLength="5.80" lengthAdjust="spacingAndGlyphs">χ</text>
<text x="138.60" y="168.80" class="lgss" textLength="3.60" lengthAdjust="spacingAndGlyphs">1</text>
<text x="145.20" y="165.50" class="lg" textLength="11.80" lengthAdjust="spacingAndGlyphs">=</text>
<text x="159.20" y="165.50" class="lg" textLength="15.20" lengthAdjust="spacingAndGlyphs">65</text>
<text x="180.00" y="165.50" class="lg i" textLength="27.20" lengthAdjust="spacingAndGlyphs">GeV</text>
<text x="121.00" y="189.20" class="lg i" textLength="12.00" lengthAdjust="spacingAndGlyphs">m</text>
<text x="132.40" y="190.90" class="lgx i" textLength="5.80" lengthAdjust="spacingAndGlyphs">χ</text>
<text x="138.60" y="192.50" class="lgss" textLength="3.60" lengthAdjust="spacingAndGlyphs">1</text>
<text x="145.20" y="189.20" class="lg" textLength="11.80" lengthAdjust="spacingAndGlyphs">=</text>
<text x="158.80" y="189.20" class="lg" textLength="25.60" lengthAdjust="spacingAndGlyphs">200</text>
<text x="188.30" y="189.20" class="lg i" textLength="27.20" lengthAdjust="spacingAndGlyphs">GeV</text>
<text x="121.00" y="212.70" class="lg i" textLength="12.00" lengthAdjust="spacingAndGlyphs">m</text>
<text x="132.40" y="214.40" class="lgx i" textLength="5.80" lengthAdjust="spacingAndGlyphs">χ</text>
<text x="138.60" y="216.00" class="lgss" textLength="3.60" lengthAdjust="spacingAndGlyphs">1</text>
<text x="145.20" y="212.70" class="lg" textLength="11.80" lengthAdjust="spacingAndGlyphs">=</text>
<text x="158.80" y="212.70" class="lg" textLength="25.60" lengthAdjust="spacingAndGlyphs">500</text>
<text x="188.30" y="212.70" class="lg i" textLength="27.20" lengthAdjust="spacingAndGlyphs">GeV</text>
</svg></body></html>
